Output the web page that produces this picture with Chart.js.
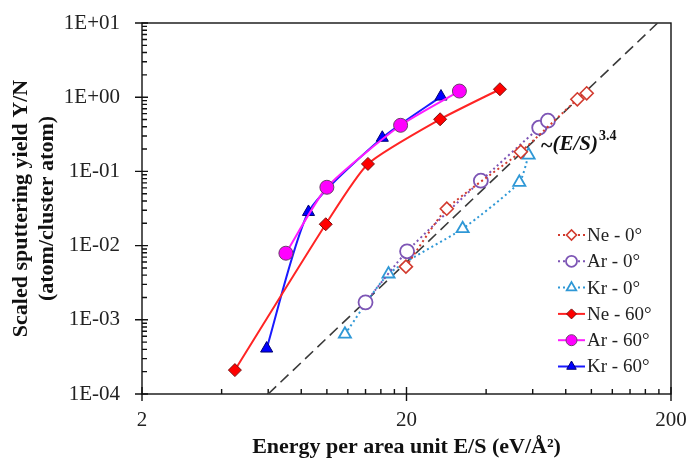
<!DOCTYPE html>
<html>
<head>
<meta charset="utf-8">
<script src="https://cdn.jsdelivr.net/npm/chart.js@4/dist/chart.umd.min.js"></script>
<style>
  html, body { margin: 0; padding: 0; background: #fff; }
</style>
</head>
<body>
<canvas id="chart" width="690" height="459"></canvas>
<script>
// values: energy per area (eV/Å²) and scaled yield Y/N
const ne0E = [19.9, 28.4, 54.1, 88.5, 96.0];
const ne0Y = [0.0052, 0.0314, 0.184, 0.937, 1.13];
const ar0E = [14.0, 20.1, 38.2, 63.5, 68.5];
const ar0Y = [0.00172, 0.00838, 0.0749, 0.388, 0.482];
const kr0E = [11.7, 17.1, 32.6, 53.4, 57.9];
const kr0Y = [0.00064, 0.00414, 0.0169, 0.0713, 0.166];
const ne60E = [4.49, 9.90, 14.3, 26.8, 45.1];
const ne60Y = [0.00021, 0.0194, 0.126, 0.504, 1.28];
const ar60E = [7.0, 10.0, 19.0, 31.7];
const ar60Y = [0.0079, 0.0611, 0.418, 1.21];
const kr60E = [5.92, 8.52, 16.2, 27.0];
const kr60Y = [0.00041, 0.0284, 0.284, 1.02];
// the ~(E/S)^3.4 guide line, its two ends
const fitE = [6.0, 178];
const fitY = [1e-4, 10];

const xTicks = [2, 20, 200];
const xMinor = [4, 6, 8, 10, 12, 14, 16, 18, 40, 60, 80, 100, 120, 140, 160, 180];
const yTicks = [1e-4, 1e-3, 1e-2, 1e-1, 1, 10];
const yTickLabels = ['1E-04', '1E-03', '1E-02', '1E-01', '1E+00', '1E+01'];
const yMinor = [];
yTicks.slice(0, -1).forEach(d => { for (let k = 2; k <= 9; k++) yMinor.push(d * k); });

const serif = '"Liberation Serif", "Times New Roman", serif';
const pts = (xs, ys) => xs.map((x, i) => ({ x: x, y: ys[i] }));

const datasets = [
  { label: 'Ne - 0°', data: pts(ne0E, ne0Y), borderColor: '#d23a2e', backgroundColor: '#fff',
    pointBorderColor: '#d23a2e', borderDash: [2, 3], borderWidth: 2, pointStyle: 'rectRot', pointRadius: 6.5, pointBorderWidth: 1.6 },
  { label: 'Ar - 0°', data: pts(ar0E, ar0Y), borderColor: '#7d55b5', backgroundColor: '#fff',
    pointBorderColor: '#7d55b5', borderDash: [2, 3], borderWidth: 2, pointStyle: 'circle', pointRadius: 7, pointBorderWidth: 1.8 },
  { label: 'Kr - 0°', data: pts(kr0E, kr0Y), borderColor: '#2f98d6', backgroundColor: '#fff',
    pointBorderColor: '#2f98d6', borderDash: [2, 3], borderWidth: 2, pointStyle: 'triangle', pointRadius: 7, pointBorderWidth: 1.8 },
  { label: 'Ne - 60°', data: pts(ne60E, ne60Y), borderColor: '#ff2424', backgroundColor: '#ff0000',
    pointBorderColor: '#7a1010', borderWidth: 2, pointStyle: 'rectRot', pointRadius: 6.5, pointBorderWidth: 1 },
  { label: 'Ar - 60°', data: pts(ar60E, ar60Y), borderColor: '#ff1cff', backgroundColor: '#ff00ff',
    pointBorderColor: '#6a406a', borderWidth: 2, pointStyle: 'circle', pointRadius: 7, pointBorderWidth: 1 },
  { label: 'Kr - 60°', data: pts(kr60E, kr60Y), borderColor: '#1a1aff', backgroundColor: '#0000ff',
    pointBorderColor: '#000070', borderWidth: 2, pointStyle: 'triangle', pointRadius: 7, pointBorderWidth: 1 },
  { label: 'fit', data: pts(fitE, fitY), borderColor: '#3a3a3a', borderDash: [11, 6], borderWidth: 1.6,
    pointRadius: 0, tension: 0 }
];
datasets.forEach(d => {
  d.pointBackgroundColor = d.backgroundColor;
  if (d.tension === undefined) d.tension = 0.2;
  d.fill = false;
});

const frame = {
  id: 'frame',
  beforeDatasetsDraw(chart) {
    const { ctx, chartArea: a, scales: { x, y } } = chart;
    ctx.save();
    ctx.strokeStyle = '#111';
    ctx.lineWidth = 1.4;
    ctx.strokeRect(a.left, a.top, a.width, a.height);
    ctx.beginPath();
    xTicks.forEach(v => { const p = x.getPixelForValue(v); ctx.moveTo(p, a.bottom - 7); ctx.lineTo(p, a.bottom + 7); });
    xMinor.forEach(v => { const p = x.getPixelForValue(v); ctx.moveTo(p, a.bottom - 5); ctx.lineTo(p, a.bottom); });
    yTicks.forEach(v => { const p = y.getPixelForValue(v); ctx.moveTo(a.left - 7, p); ctx.lineTo(a.left + 6, p); });
    yMinor.forEach(v => { const p = y.getPixelForValue(v); ctx.moveTo(a.left, p); ctx.lineTo(a.left + 5, p); });
    ctx.stroke();
    ctx.restore();
  },
  afterDraw(chart) {
    const { ctx, chartArea: a, scales: { x, y } } = chart;
    ctx.save();
    // guide line label
    let tx = x.getPixelForValue(64.5), ty = y.getPixelForValue(0.227);
    ctx.fillStyle = '#111';
    ctx.textBaseline = 'middle';
    ctx.font = 'bold 22px ' + serif;
    ctx.fillText('~', tx, ty + 1);
    tx += ctx.measureText('~').width;
    ctx.font = 'italic bold 21px ' + serif;
    ctx.fillText('(E/S)', tx, ty);
    tx += ctx.measureText('(E/S)').width + 1;
    ctx.font = 'bold 14px ' + serif;
    ctx.fillText('3.4', tx, ty - 9);

    // legend inside the plot
    const lx = a.right - 113, ly0 = a.top + 212, step = 26.3;
    datasets.slice(0, 6).forEach((d, i) => {
      const ly = ly0 + i * step;
      ctx.strokeStyle = d.borderColor;
      ctx.lineWidth = d.borderWidth;
      ctx.setLineDash(d.borderDash || []);
      ctx.beginPath(); ctx.moveTo(lx, ly); ctx.lineTo(lx + 27, ly); ctx.stroke();
      ctx.setLineDash([]);
      ctx.fillStyle = d.backgroundColor;
      ctx.strokeStyle = d.pointBorderColor;
      ctx.lineWidth = d.pointBorderWidth;
      Chart.helpers.drawPoint(ctx, { pointStyle: d.pointStyle, radius: d.pointRadius - 1.5, rotation: 0, borderWidth: d.pointBorderWidth }, lx + 13.5, ly);
      ctx.fillStyle = '#222';
      ctx.font = '19px ' + serif;
      ctx.textBaseline = 'middle';
      ctx.fillText(d.label, lx + 29, ly + 1);
    });
    ctx.restore();
  }
};

new Chart(document.getElementById('chart'), {
  type: 'line',
  data: { datasets: datasets },
  plugins: [frame],
  options: {
    responsive: false,
    animation: false,
    devicePixelRatio: 1,
    layout: { padding: { top: 23, right: 19, left: 0, bottom: 0 }, autoPadding: false },
    plugins: { legend: { display: false }, tooltip: { enabled: false } },
    scales: {
      x: {
        type: 'logarithmic', min: 2, max: 200,
        afterBuildTicks: s => { s.ticks = xTicks.map(v => ({ value: v })); },
        afterFit: s => { s.height = 65; s.paddingLeft = 0; s.paddingRight = 0; },
        grid: { display: false, drawTicks: false },
        border: { display: false },
        ticks: { autoSkip: false, maxRotation: 0, minRotation: 0, padding: 14, color: '#222',
          font: { family: serif, size: 21 }, callback: v => String(v) },
        title: { display: true, text: 'Energy per area unit E/S (eV/Å²)', color: '#111',
          font: { family: serif, size: 22, weight: 'bold' }, padding: { top: 0, bottom: -2 } }
      },
      y: {
        type: 'logarithmic', min: 1e-4, max: 10,
        afterBuildTicks: s => { s.ticks = yTicks.map(v => ({ value: v })); },
        afterFit: s => { s.width = 142; s.paddingTop = 0; s.paddingBottom = 0; },
        grid: { display: false, drawTicks: false },
        border: { display: false },
        ticks: { autoSkip: false, padding: 22, color: '#222', font: { family: serif, size: 21 },
          callback: v => yTickLabels[yTicks.findIndex(t => Math.abs(Math.log10(t) - Math.log10(v)) < 1e-6)] },
        title: { display: true, text: ['Scaled sputtering yield Y/N', '(atom/cluster atom)'], color: '#111',
          font: { family: serif, size: 22, weight: 'bold', lineHeight: 1.18 }, padding: { top: 8, bottom: 0 } }
      }
    }
  }
});
</script>
</body>
</html>
